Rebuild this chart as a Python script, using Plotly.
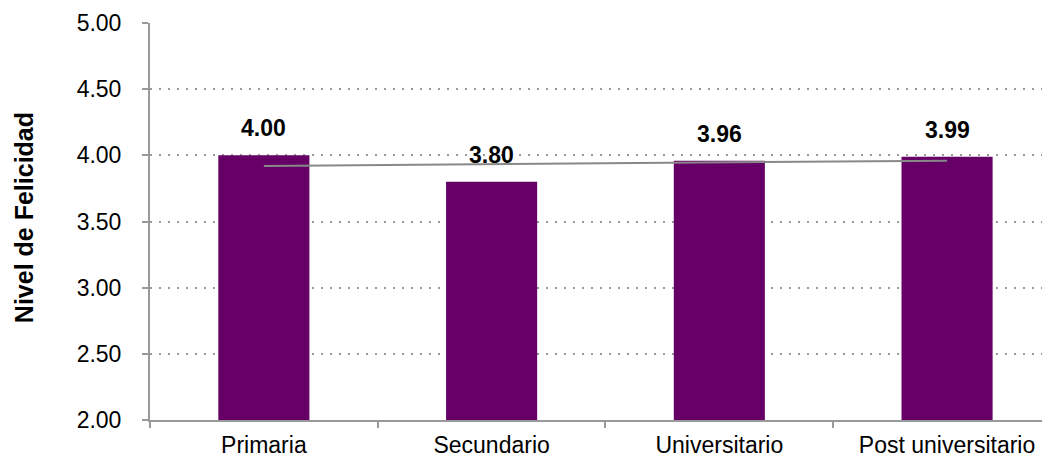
import plotly.graph_objects as go

categories = ["Primaria", "Secundario", "Universitario", "Post universitario"]
values = [4.00, 3.80, 3.96, 3.99]
value_labels = ["4.00", "3.80", "3.96", "3.99"]
trend_categories = ["Primaria", "Post universitario"]
trend_values = [3.92, 3.96]
y_ticks = [2.0, 2.5, 3.0, 3.5, 4.0, 4.5, 5.0]
y_tick_labels = ["2.00", "2.50", "3.00", "3.50", "4.00", "4.50", "5.00"]

FONT = "Liberation Sans, Arial, Helvetica, sans-serif"

fig = go.Figure()
fig.add_trace(go.Bar(
    x=categories, y=values, width=0.40,
    marker=dict(color="#660066", line=dict(width=0)),
    showlegend=False, hoverinfo="skip",
))
fig.add_trace(go.Scatter(
    x=trend_categories, y=trend_values, mode="lines",
    line=dict(color="#888888", width=2),
    showlegend=False, hoverinfo="skip",
))

for c, v, t in zip(categories, values, value_labels):
    fig.add_annotation(
        x=c, y=v, text=t, showarrow=False, yanchor="bottom",
        yshift=12, font=dict(family=FONT, size=23, color="black", weight="bold"),
    )

fig.add_annotation(
    xref="paper", yref="paper", x=(16 - 142) / 900, y=0.511,
    xanchor="center", yanchor="middle",
    text="Nivel de Felicidad", textangle=-90, showarrow=False,
    font=dict(family=FONT, size=25, color="black", weight="bold"),
)

fig.update_layout(
    width=1042, height=451,
    margin=dict(l=142, r=0, t=15, b=39),
    plot_bgcolor="white", paper_bgcolor="white",
    font=dict(family=FONT, size=23, color="black"),
    xaxis=dict(
        range=[-0.5, 3.452], showgrid=False, showline=True,
        linecolor="#999999", linewidth=2,
        ticks="outside", tickson="boundaries", ticklen=6,
        tickcolor="#999999", tickwidth=2,
        ticklabelstandoff=3,
        tickfont=dict(family=FONT, size=23, color="black"),
        fixedrange=True,
    ),
    yaxis=dict(
        range=[2, 5], tickvals=y_ticks, ticktext=y_tick_labels,
        showgrid=True, gridcolor="#999999", gridwidth=2, griddash="2px,7px",
        showline=True, linecolor="#999999", linewidth=2,
        ticks="outside", ticklen=6, tickcolor="#999999", tickwidth=2,
        ticklabelstandoff=16,
        tickfont=dict(family=FONT, size=23, color="black"),
        zeroline=False, fixedrange=True,
    ),
)

fig.write_html("out.html")
